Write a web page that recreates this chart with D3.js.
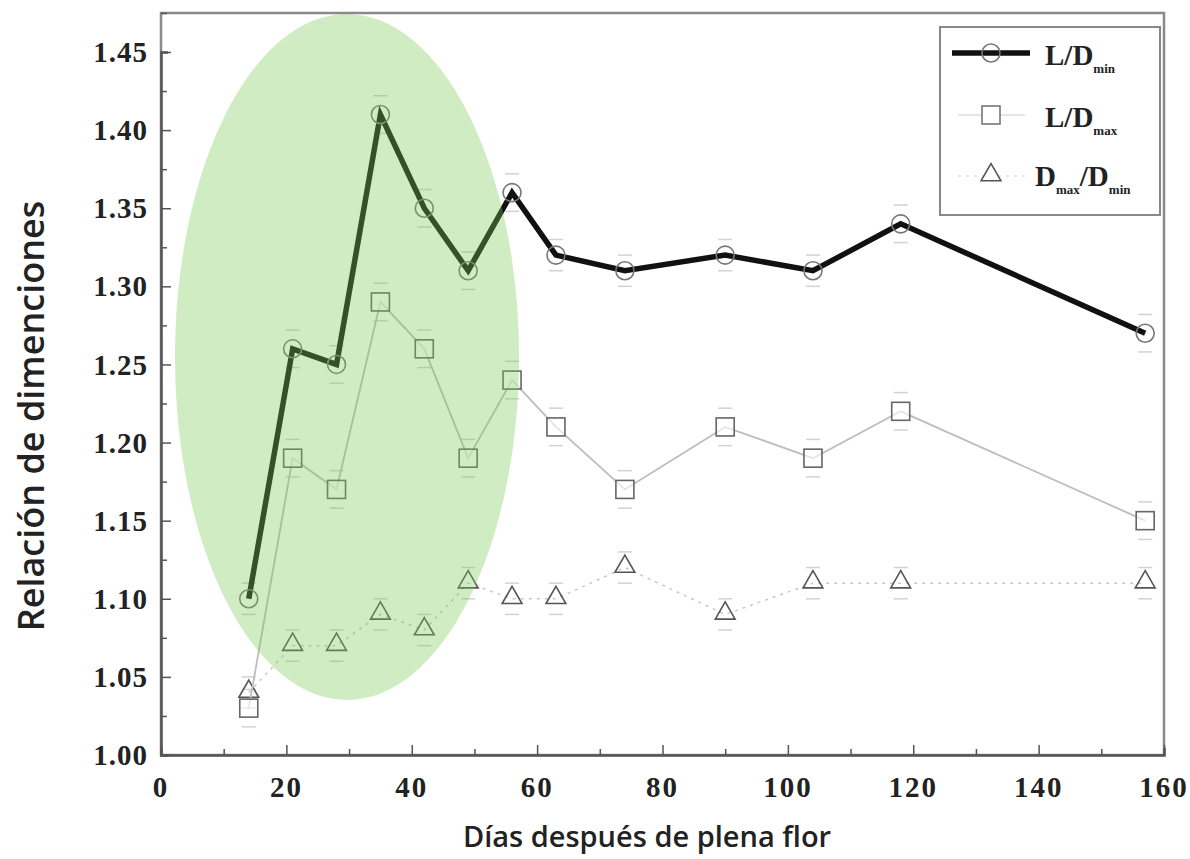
<!DOCTYPE html>
<html>
<head>
<meta charset="utf-8">
<script src="https://cdn.jsdelivr.net/npm/d3@7"></script>
<style>
  html, body { margin: 0; padding: 0; background: #fff; }
  svg { display: block; }
</style>
</head>
<body>
<svg id="chart" width="1190" height="859"></svg>
<script>
// Days after full bloom
const days = [14, 21, 28, 35, 42, 49, 56, 63, 74, 90, 104, 118, 157];

// Dimension ratios per sampling date
const ldMin = [1.10, 1.26, 1.25, 1.41, 1.35, 1.31, 1.36, 1.32, 1.31, 1.32, 1.31, 1.34, 1.27];
const ldMax = [1.03, 1.19, 1.17, 1.29, 1.26, 1.19, 1.24, 1.21, 1.17, 1.21, 1.19, 1.22, 1.15];
const dMaxMin = [1.04, 1.07, 1.07, 1.09, 1.08, 1.11, 1.10, 1.10, 1.12, 1.09, 1.11, 1.11, 1.11];

// Standard errors
const errLdMin = [0.010, 0.012, 0.012, 0.012, 0.012, 0.012, 0.012, 0.010, 0.010, 0.010, 0.010, 0.012, 0.012];
const errLdMax = [0.012, 0.012, 0.012, 0.012, 0.012, 0.012, 0.012, 0.012, 0.012, 0.012, 0.012, 0.012, 0.012];
const errDMaxMin = [0.010, 0.010, 0.010, 0.010, 0.010, 0.010, 0.010, 0.010, 0.010, 0.010, 0.010, 0.010, 0.010];

// Axis ticks
const xTicks = [0, 20, 40, 60, 80, 100, 120, 140, 160];
const yTicks = [1.00, 1.05, 1.10, 1.15, 1.20, 1.25, 1.30, 1.35, 1.40, 1.45];

const svg = d3.select("#chart");
const plotLeft = 161, plotRight = 1164, plotTop = 13, plotBottom = 755;

const x = d3.scaleLinear().domain([0, 160]).range([plotLeft, plotRight]);
const y = d3.scaleLinear().domain([1.00, 1.45]).range([plotBottom, 52]);

const serif = "'Liberation Serif', 'Times New Roman', serif";
const sans = "'Open Sans', 'Noto Sans', sans-serif";

// Plot frame
svg.append("rect")
  .attr("x", plotLeft).attr("y", plotTop)
  .attr("width", plotRight - plotLeft).attr("height", plotBottom - plotTop)
  .attr("fill", "none").attr("stroke", "#8a8a8a").attr("stroke-width", 2.5);

// Y axis (ticks pointing inward, minor ticks at 0.025)
const yAxis = d3.axisRight(y).tickValues(d3.range(1.0, 1.4751, 0.025)).tickSize(7).tickFormat("");
const gy = svg.append("g").attr("transform", `translate(${plotLeft},0)`).call(yAxis);
gy.select(".domain").attr("stroke", "#555").attr("stroke-width", 2.5);
gy.selectAll(".tick line").attr("stroke", "#555").attr("stroke-width", 1.5)
  .attr("x2", (d, i) => (i % 2 === 0 ? 10 : 6));

svg.append("g").selectAll("text").data(yTicks).join("text")
  .attr("x", 148).attr("y", d => y(d)).attr("dy", "0.35em")
  .attr("text-anchor", "end")
  .attr("font-family", serif).attr("font-weight", "bold").attr("font-size", 29)
  .attr("letter-spacing", 1)
  .attr("fill", "#222")
  .text(d => d3.format(".2f")(d));

// X axis (ticks pointing inward, minor ticks at 10)
const xAxis = d3.axisTop(x).tickValues(d3.range(0, 161, 10)).tickSize(7).tickFormat("");
const gx = svg.append("g").attr("transform", `translate(0,${plotBottom})`).call(xAxis);
gx.select(".domain").attr("stroke", "#555").attr("stroke-width", 2.5);
gx.selectAll(".tick line").attr("stroke", "#555").attr("stroke-width", 1.5)
  .attr("y2", (d, i) => (i % 2 === 0 ? -10 : -6));

svg.append("g").selectAll("text").data(xTicks).join("text")
  .attr("x", d => x(d)).attr("y", 797)
  .attr("text-anchor", "middle")
  .attr("font-family", serif).attr("font-weight", "bold").attr("font-size", 29)
  .attr("letter-spacing", 2)
  .attr("fill", "#222")
  .text(d => d);

// Axis titles
svg.append("text")
  .attr("x", 647).attr("y", 847)
  .attr("text-anchor", "middle")
  .attr("font-family", sans).attr("font-weight", 600).attr("font-size", 29)
  .attr("fill", "#222")
  .text("Días después de plena flor");

svg.append("text")
  .attr("transform", "translate(44,416) rotate(-90)")
  .attr("text-anchor", "middle")
  .attr("font-family", sans).attr("font-weight", 600).attr("font-size", 36)
  .attr("fill", "#222")
  .text("Relación de dimenciones");

// Error bars
function errorBars(vals, errs) {
  const g = svg.append("g").attr("stroke", "#d2d2d2").attr("stroke-width", 1.5);
  days.forEach((d, i) => {
    const cx = x(d);
    [vals[i] + errs[i], vals[i] - errs[i]].forEach(v => {
      g.append("line").attr("x1", cx - 7).attr("x2", cx + 7)
        .attr("y1", y(v)).attr("y2", y(v));
    });
  });
}
errorBars(dMaxMin, errDMaxMin);
errorBars(ldMax, errLdMax);
errorBars(ldMin, errLdMin);

const line = d3.line().x((d, i) => x(days[i])).y(d => y(d));

// D max / D min: dotted light line with triangles
svg.append("path").datum(dMaxMin)
  .attr("d", line).attr("fill", "none")
  .attr("stroke", "#c8c8c8").attr("stroke-width", 1.5).attr("stroke-dasharray", "3,5");
const tri = d3.symbol().type(d3.symbolTriangle).size(170);
svg.append("g").selectAll("path").data(dMaxMin).join("path")
  .attr("transform", (d, i) => `translate(${x(days[i])},${y(d) - 1})`)
  .attr("d", tri).attr("fill", "none").attr("stroke", "#555").attr("stroke-width", 1.6);

// L / D max: thin gray line with squares
svg.append("path").datum(ldMax)
  .attr("d", line).attr("fill", "none")
  .attr("stroke", "#bdbdbd").attr("stroke-width", 1.8);
svg.append("g").selectAll("rect").data(ldMax).join("rect")
  .attr("x", (d, i) => x(days[i]) - 9).attr("y", d => y(d) - 9)
  .attr("width", 18).attr("height", 18)
  .attr("fill", "#fff").attr("fill-opacity", 0.6)
  .attr("stroke", "#666").attr("stroke-width", 1.6);

// L / D min: thick black line with circles
svg.append("path").datum(ldMin)
  .attr("d", line).attr("fill", "none")
  .attr("stroke", "#111").attr("stroke-width", 5.5).attr("stroke-linejoin", "miter");
svg.append("g").selectAll("circle").data(ldMin).join("circle")
  .attr("cx", (d, i) => x(days[i])).attr("cy", d => y(d)).attr("r", 9)
  .attr("fill", "none").attr("stroke", "#777").attr("stroke-width", 1.6);

// Legend
const lg = svg.append("g");
lg.append("rect").attr("x", 940).attr("y", 27).attr("width", 220).attr("height", 188)
  .attr("fill", "#fff").attr("stroke", "#888").attr("stroke-width", 2);

lg.append("line").attr("x1", 952).attr("x2", 1030).attr("y1", 53).attr("y2", 53)
  .attr("stroke", "#111").attr("stroke-width", 5.5);
lg.append("circle").attr("cx", 991).attr("cy", 53).attr("r", 9)
  .attr("fill", "none").attr("stroke", "#777").attr("stroke-width", 1.6);

lg.append("line").attr("x1", 958).attr("x2", 1025).attr("y1", 115).attr("y2", 115)
  .attr("stroke", "#ddd").attr("stroke-width", 1.5);
lg.append("rect").attr("x", 982).attr("y", 106).attr("width", 18).attr("height", 18)
  .attr("fill", "#fff").attr("stroke", "#777").attr("stroke-width", 1.6);

lg.append("line").attr("x1", 958).attr("x2", 1025).attr("y1", 176).attr("y2", 176)
  .attr("stroke", "#ddd").attr("stroke-width", 1.5).attr("stroke-dasharray", "3,5");
lg.append("path").attr("transform", "translate(991,175)").attr("d", tri)
  .attr("fill", "#fff").attr("stroke", "#555").attr("stroke-width", 1.6);

function legendLabel(xPos, yPos, parts) {
  const t = lg.append("text").attr("x", xPos).attr("y", yPos)
    .attr("font-family", serif).attr("font-weight", "bold").attr("font-size", 29)
    .attr("fill", "#222");
  parts.forEach(p => {
    const s = t.append("tspan").text(p.t);
    if (p.sub) s.attr("font-size", 13).attr("dy", 8);
    else if (p.back) s.attr("dy", -8);
  });
}
legendLabel(1045, 65, [{ t: "L/D" }, { t: "min", sub: true }]);
legendLabel(1045, 127, [{ t: "L/D" }, { t: "max", sub: true }]);
legendLabel(1035, 186, [{ t: "D" }, { t: "max", sub: true }, { t: "/D", back: true }, { t: "min", sub: true }]);

// Highlighted early growth period
svg.append("ellipse")
  .attr("cx", 347).attr("cy", 357).attr("rx", 172).attr("ry", 343)
  .attr("fill", "#78c850").attr("fill-opacity", 0.35);
</script>
</body>
</html>
